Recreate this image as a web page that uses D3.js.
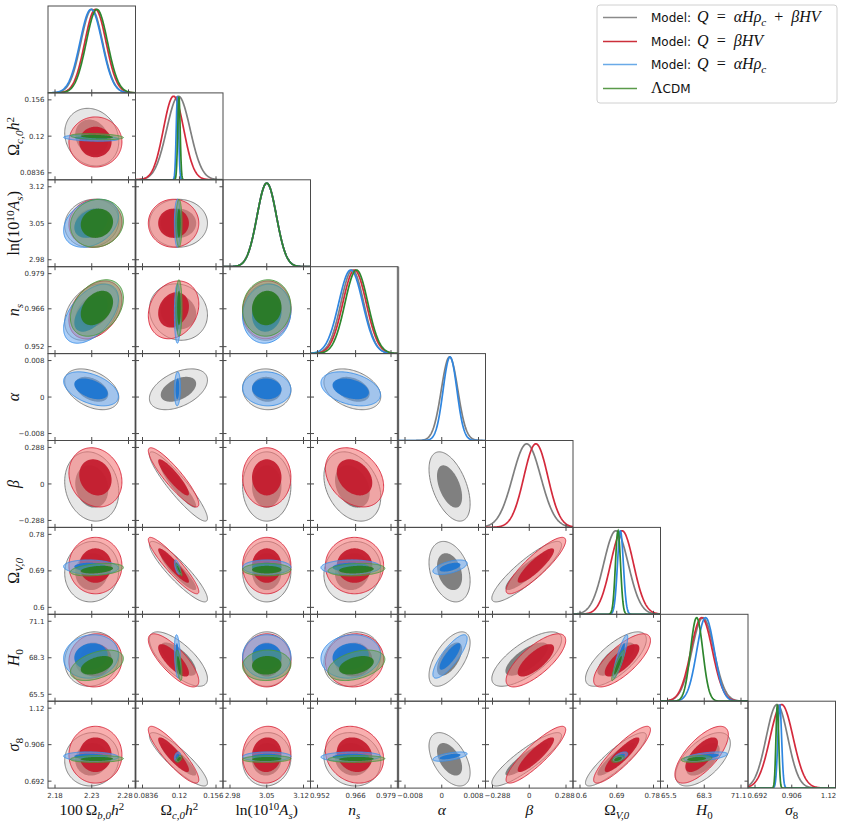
<!DOCTYPE html>
<html><head><meta charset="utf-8">
<script src="https://cdn.jsdelivr.net/npm/d3@7"></script>
<style>body{margin:0;background:#fff}</style></head><body>
<svg id="c" width="843" height="821"></svg>
<script>
// ---------------- data ----------------
const paramKeys = ["ombh2","omch2","logAs","ns","alpha","beta","OmegaV","H0","sigma8"];
const tickVals = [[2.18,2.23,2.28],[0.0836,0.12,0.156],[2.98,3.05,3.12],[0.952,0.966,0.979],[-0.008,0,0.008],[-0.288,0,0.288],[0.6,0.69,0.78],[65.5,68.3,71.1],[0.692,0.906,1.12]];
const tickLabels = [["2.18","2.23","2.28"],["0.0836","0.12","0.156"],["2.98","3.05","3.12"],["0.952","0.966","0.979"],["\u22120.008","0","0.008"],["\u22120.288","0","0.288"],["0.6","0.69","0.78"],["65.5","68.3","71.1"],["0.692","0.906","1.12"]];
const axisLabels = [
  [["100\u2009","r"],["\u03A9","r"],["b,0","subi"],["h","i"],["2","sup"]],
  [["\u03A9","r"],["c,0","subi"],["h","i"],["2","sup"]],
  [["ln(10","r"],["10","sup"],["A","i"],["s","subi"],[")","r"]],
  [["n","i"],["s","subi"]],
  [["\u03B1","i"]],
  [["\u03B2","i"]],
  [["\u03A9","r"],["V,0","subi"]],
  [["H","i"],["0","sub"]],
  [["\u03C3","i"],["8","sub"]]
];
const modelNames = ["Model: Q = \u03B1H\u03C1c + \u03B2HV","Model: Q = \u03B2HV","Model: Q = \u03B1H\u03C1c","\u039BCDM"];

// posterior means and standard deviations (null = parameter not in model)
const meanFull   = [2.230, 0.1190, 3.050, 0.9648, 0.0017, -0.020, 0.688, 68.20, 0.820];
const sigmaFull  = [0.0148, 0.0115, 0.0185, 0.0042, 0.0018, 0.110, 0.030, 0.84, 0.063];
const meanBeta   = [2.235, 0.1142, 3.050, 0.9656, null, 0.052, 0.703, 68.10, 0.847];
const sigmaBeta  = [0.0145, 0.0100, 0.0185, 0.0043, null, 0.094, 0.028, 0.82, 0.067];
const meanAlpha  = [2.229, 0.1180, 3.050, 0.9642, 0.0018, null, 0.699, 68.40, 0.836];
const sigmaAlpha = [0.0150, 0.0012, 0.0185, 0.0044, 0.0015, null, 0.0072, 0.67, 0.011];
const meanLcdm   = [2.237, 0.1195, 3.050, 0.9663, null, null, 0.693, 67.72, 0.822];
const sigmaLcdm  = [0.0145, 0.0012, 0.0185, 0.0042, null, null, 0.0062, 0.47, 0.008];

// correlations [row param, column param, rho]
const corrFull = [[1,0,-0.15],[2,0,0.1],[2,1,0.0],[3,0,0.35],[3,1,-0.1],[3,2,0.05],
 [4,0,-0.4],[4,1,0.45],[4,2,-0.05],[4,3,-0.35],
 [5,0,-0.15],[5,1,-0.92],[5,2,0.0],[5,3,-0.3],[5,4,-0.5],
 [6,0,0.05],[6,1,-0.9],[6,2,0.0],[6,3,0.1],[6,4,-0.3],[6,5,0.88],
 [7,0,0.1],[7,1,-0.72],[7,2,0.0],[7,3,0.15],[7,4,0.6],[7,5,0.72],[7,6,0.72],
 [8,0,0.05],[8,1,-0.88],[8,2,0.05],[8,3,-0.1],[8,4,-0.5],[8,5,0.88],[8,6,0.88],[8,7,0.6]];
const corrBeta = [[1,0,0.0],[2,0,0.05],[2,1,0.0],[3,0,0.35],[3,1,0.2],[3,2,0.05],
 [5,0,-0.15],[5,1,-0.9],[5,2,0.0],[5,3,-0.3],
 [6,0,0.0],[6,1,-0.92],[6,2,0.0],[6,3,0.0],[6,5,0.88],
 [7,0,0.05],[7,1,-0.78],[7,2,0.0],[7,3,0.05],[7,5,0.75],[7,6,0.75],
 [8,0,0.0],[8,1,-0.88],[8,2,0.05],[8,3,-0.15],[8,5,0.88],[8,6,0.88],[8,7,0.7]];
const corrAlpha = [[1,0,-0.3],[2,0,0.3],[2,1,0.0],[3,0,0.5],[3,1,0.0],[3,2,0.1],
 [4,0,-0.45],[4,1,0.1],[4,2,-0.05],[4,3,-0.35],
 [6,0,-0.1],[6,1,-0.6],[6,2,0.0],[6,3,0.05],[6,4,0.55],
 [7,0,0.1],[7,1,-0.3],[7,2,0.0],[7,3,0.1],[7,4,0.82],[7,6,0.88],
 [8,0,-0.1],[8,1,0.3],[8,2,0.05],[8,3,0.1],[8,4,0.6],[8,6,0.6],[8,7,0.55]];
const corrLcdm = [[1,0,-0.3],[2,0,0.1],[2,1,0.0],[3,0,0.35],[3,1,0.0],[3,2,0.05],
 [6,0,0.35],[6,1,-0.9],[6,2,0.0],[6,3,0.2],
 [7,0,0.45],[7,1,-0.6],[7,2,0.05],[7,3,0.4],[7,6,0.9],
 [8,0,0.1],[8,1,0.5],[8,2,0.1],[8,3,0.1],[8,6,0.5],[8,7,0.3]];

// ---------------- styles ----------------
const styles = [
  {line:"#7f7f7f", outer:"rgb(230,230,230)", outerOp:1, inner:"rgb(128,128,128)", innerOp:1, edge:"#777", legend:"#8a8a8a"},
  {line:"#d42a3c", outer:"rgb(244,118,118)", outerOp:0.58, inner:"rgb(196,28,46)", innerOp:0.95, edge:"#d8283c", legend:"#cc2f3a"},
  {line:"#2f86e0", outer:"rgb(105,168,240)", outerOp:0.55, inner:"rgb(30,118,210)", innerOp:0.95, edge:"#3a8ee8", legend:"#6aaae8"},
  {line:"#2e862e", outer:"rgb(100,160,100)", outerOp:0.5, inner:"rgb(42,122,36)", innerOp:0.95, edge:"#4d9a3d", legend:"#5a9a4a"}
];
const models = [
  {mean:meanFull, sd:sigmaFull, corr:corrFull},
  {mean:meanBeta, sd:sigmaBeta, corr:corrBeta},
  {mean:meanAlpha, sd:sigmaAlpha, corr:corrAlpha},
  {mean:meanLcdm, sd:sigmaLcdm, corr:corrLcdm}
];

// ---------------- layout ----------------
const L=48, T=6, PW=87.5, PH=86.9, N=9;
const svg=d3.select("#c");
function dom(i){const t=tickVals[i];const span=(t[2]-t[0])/0.84;return [t[0]-0.08*span,t[2]+0.08*span];}
const xs=d3.range(N).map(i=>d3.scaleLinear().domain(dom(i)).range([L+i*PW,L+(i+1)*PW]));
const ys=d3.range(N).map(i=>d3.scaleLinear().domain(dom(i)).range([T+(i+1)*PH,T+i*PH]));

const defs=svg.append("defs");
const gArt=svg.append("g");
const gPlot=svg.append("g");
const gFrame=svg.append("g");

// thick lines at some column boundaries (as in the original rendering)
gArt.append("line").attr("x1",L+PW).attr("x2",L+PW).attr("y1",T+2*PH).attr("y2",T+9*PH).attr("stroke","#a8a8a8").attr("stroke-width",2.6);
gArt.append("line").attr("x1",L+4*PW).attr("x2",L+4*PW).attr("y1",T+3*PH).attr("y2",T+9*PH).attr("stroke","#a8a8a8").attr("stroke-width",2.6);

function corrOf(m,i,j){const c=m.corr.find(d=>(d[0]===i&&d[1]===j)||(d[0]===j&&d[1]===i));return c?c[2]:0;}
const thetas=d3.range(0,2*Math.PI,Math.PI/72);
function ellipsePts(m,xi,yi,k){
  const mx=m.mean[xi], my=m.mean[yi], sx=m.sd[xi], sy=m.sd[yi], rho=corrOf(m,yi,xi);
  const r=Math.sqrt(k), q=Math.sqrt(1-rho*rho);
  return thetas.map(t=>[mx+r*sx*Math.cos(t), my+r*sy*(rho*Math.cos(t)+q*Math.sin(t))]);
}

for(let r=0;r<N;r++){
  for(let c=0;c<=r;c++){
    const x0=L+c*PW, y0=T+r*PH;
    const id="clip"+r+"_"+c;
    defs.append("clipPath").attr("id",id).append("rect").attr("x",x0).attr("y",y0).attr("width",PW).attr("height",PH);
    const g=gPlot.append("g").attr("clip-path","url(#"+id+")");
    const xsc=xs[c];
    if(r===c){
      const ysc=d3.scaleLinear().domain([0,1.04]).range([y0+PH,y0]);
      const d=dom(c); const grid=d3.range(0,201).map(k=>d[0]+(d[1]-d[0])*k/200);
      models.forEach((m,mi)=>{
        if(m.mean[c]===null) return;
        const line=d3.line().x(v=>xsc(v)).y(v=>ysc(Math.exp(-0.5*Math.pow((v-m.mean[c])/m.sd[c],2))));
        g.append("path").attr("d",line(grid)).attr("fill","none").attr("stroke",styles[mi].line).attr("stroke-width",1.7);
      });
    } else {
      const ysc=ys[r];
      const line=d3.line().x(p=>xsc(p[0])).y(p=>ysc(p[1])).curve(d3.curveLinearClosed);
      models.forEach((m,mi)=>{
        if(m.mean[c]===null||m.mean[r]===null) return;
        const s=styles[mi];
        const outer=line(ellipsePts(m,c,r,6.18)), inner=line(ellipsePts(m,c,r,2.30));
        g.append("path").attr("d",outer).attr("fill",s.outer).attr("fill-opacity",s.outerOp);
        g.append("path").attr("d",inner).attr("fill",s.inner).attr("fill-opacity",s.innerOp);
        g.append("path").attr("d",outer).attr("fill","none").attr("stroke",s.edge).attr("stroke-width",0.9);
      });
    }
    // frame
    gFrame.append("rect").attr("x",x0).attr("y",y0).attr("width",PW).attr("height",PH).attr("fill","none").attr("stroke","#4a4a4a").attr("stroke-width",1);
    const tl=3.5;
    tickVals[c].forEach(v=>{
      const x=xsc(v);
      gFrame.append("line").attr("x1",x).attr("x2",x).attr("y1",y0+PH).attr("y2",y0+PH-tl).attr("stroke","#4a4a4a");
      if(r!==c) gFrame.append("line").attr("x1",x).attr("x2",x).attr("y1",y0).attr("y2",y0+tl).attr("stroke","#4a4a4a");
    });
    if(r!==c){
      tickVals[r].forEach(v=>{
        const y=ys[r](v);
        gFrame.append("line").attr("x1",x0).attr("x2",x0+tl).attr("y1",y).attr("y2",y).attr("stroke","#4a4a4a");
        gFrame.append("line").attr("x1",x0+PW).attr("x2",x0+PW-tl).attr("y1",y).attr("y2",y).attr("stroke","#4a4a4a");
      });
    }
  }
}

// tick labels
const tickFont="DejaVu Sans";
const xLab=[];
for(let c=0;c<N;c++){
  xLab.push(tickVals[c].map((v,k)=>svg.append("text").attr("x",xs[c](v)).attr("y",T+9*PH+10).attr("text-anchor","middle")
      .attr("font-family",tickFont).attr("font-size",7).attr("fill","#333").text(tickLabels[c][k])));
}
// nudge neighbouring edge labels apart so they only just touch
for(let c=0;c<N-1;c++){
  const a=xLab[c][2], b=xLab[c+1][0];
  const ba=a.node().getBBox(), bb=b.node().getBBox();
  const ov=(ba.x+ba.width)-bb.x+1;
  if(ov>0){
    a.attr("x",+a.attr("x")-ov/2);
    b.attr("x",+b.attr("x")+ov/2);
  }
}
for(let r=1;r<N;r++){
  tickVals[r].forEach((v,k)=>{
    svg.append("text").attr("x",L-3.5).attr("y",ys[r](v)+2.6).attr("text-anchor","end")
      .attr("font-family",tickFont).attr("font-size",7).attr("fill","#333").text(tickLabels[r][k]);
  });
}

// math labels
const mathFont="Liberation Serif";
function mathText(sel,segs,size){
  let shift=0;
  segs.forEach(([t,st])=>{
    const ts=sel.append("tspan").text(t);
    let target=0, fs=size;
    if(st==="sub"||st==="subi"){target=size*0.28; fs=size*0.7;}
    if(st==="sup"){target=-size*0.34; fs=size*0.7;}
    ts.attr("font-size",fs).attr("dy",target-shift);
    shift=target;
    if(st==="i"||st==="subi") ts.attr("font-style","italic");
  });
}
for(let c=0;c<N;c++){
  const t=svg.append("text").attr("x",L+c*PW+PW/2).attr("y",T+9*PH+27).attr("text-anchor","middle")
    .attr("font-family",mathFont).attr("font-size",15.5).attr("fill","#111");
  mathText(t,axisLabels[c],15.5);
}
for(let r=1;r<N;r++){
  const cy=T+r*PH+PH/2;
  const t=svg.append("text").attr("transform","translate(19,"+cy+") rotate(-90)").attr("text-anchor","middle")
    .attr("font-family",mathFont).attr("font-size",16).attr("fill","#111");
  mathText(t,axisLabels[r],16);
}

// legend
const lg=svg.append("g");
lg.append("rect").attr("x",597).attr("y",5).attr("width",240).attr("height",98).attr("rx",3)
  .attr("fill","#fff").attr("stroke","#d0d0d0").attr("stroke-width",1);
const legendMath=[
  [["Q","i"],["\u2002=\u2002","r"],["\u03B1H\u03C1","i"],["c","subi"],["\u2002+\u2002","r"],["\u03B2HV","i"]],
  [["Q","i"],["\u2002=\u2002","r"],["\u03B2HV","i"]],
  [["Q","i"],["\u2002=\u2002","r"],["\u03B1H\u03C1","i"],["c","subi"]],
  []
];
const legY=[17.5,41.5,64.5,88.5];
modelNames.forEach((name,i)=>{
  const y=legY[i];
  lg.append("line").attr("x1",603).attr("x2",637).attr("y1",y).attr("y2",y).attr("stroke",styles[i].legend).attr("stroke-width",1.5);
  const t=lg.append("text").attr("x",651).attr("y",y+4.5).attr("fill","#111");
  if(i<3){
    t.append("tspan").attr("font-family","DejaVu Sans").attr("font-size",12).text("Model:\u2002");
    const mt=t.append("tspan").attr("font-family",mathFont);
    mathText(mt,legendMath[i],16);
  } else {
    t.append("tspan").attr("font-family",mathFont).attr("font-size",16).text("\u039B");
    t.append("tspan").attr("font-family","DejaVu Sans").attr("font-size",12).text("CDM");
  }
});
</script>
</body></html>
